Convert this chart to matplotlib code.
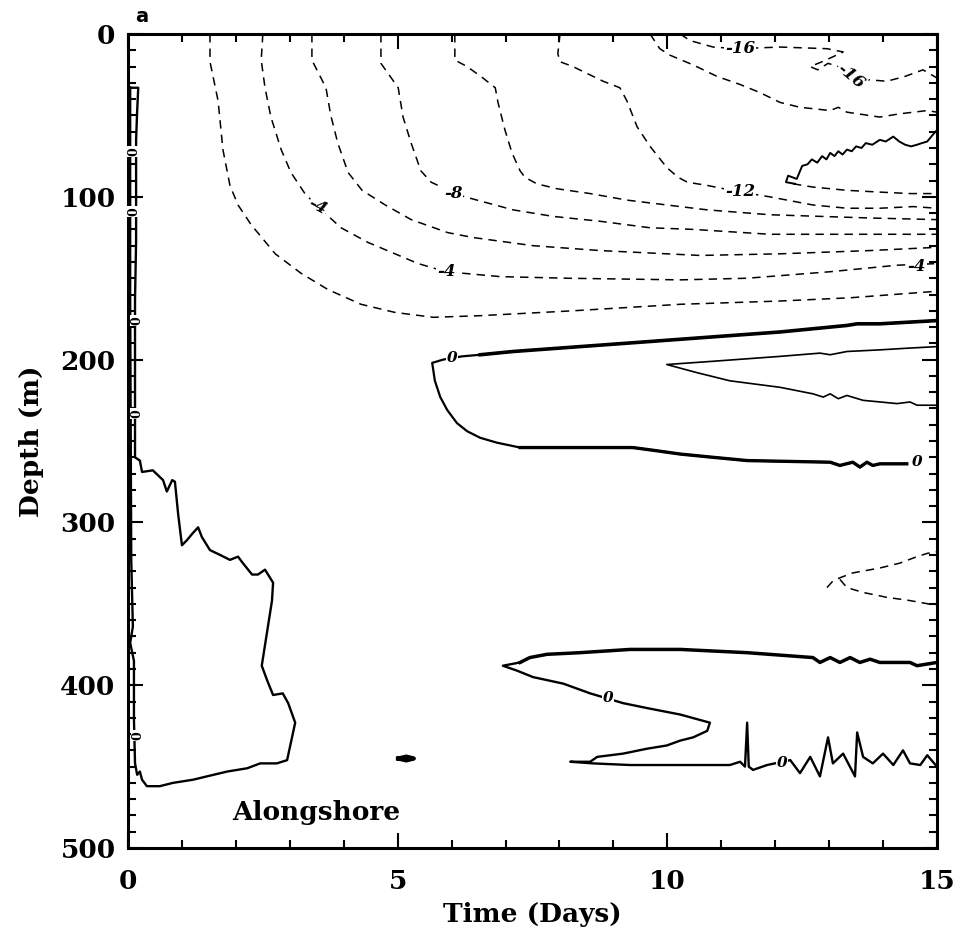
import matplotlib

matplotlib.use("Agg")
import matplotlib.pyplot as plt  # noqa: E402
from matplotlib.ticker import MultipleLocator  # noqa: E402

# traced contours: time (days), depth (m)
# dashed = negative alongshore velocity (interval 2)
A_T = [1.52, 1.52, 1.67, 1.76, 1.89, 2.04, 2.28, 2.73, 3.21, 3.71, 4.32, 4.95, 5.66, 6.53, 8.25, 10.24, 12.09, 13.39, 15.0]
A_D = [0, 17, 41, 71, 93, 105, 117, 135, 147, 157, 166, 171, 174, 173, 170, 166, 164, 162, 158]

B_T = [2.50, 2.47, 2.54, 2.65, 2.84, 3.02, 3.28, 3.52, 3.95, 4.45, 4.95, 5.38, 5.90, 6.90, 8.14, 10.24, 11.48, 13.02, 14.26, 15.0]
B_D = [0, 16, 33, 51, 71, 85, 98, 106, 119, 128, 135, 141, 146, 149, 150, 151, 150, 146, 142, 141]

C_T = [3.41, 3.41, 3.67, 3.76, 3.89, 4.08, 4.34, 4.77, 5.25, 5.93, 6.40, 7.51, 8.75, 10.61, 12.09, 13.76, 15.0]
C_D = [0, 16, 33, 50, 67, 85, 96, 105, 114, 122, 125, 130, 133, 136, 135, 133, 131]

D_T = [4.69, 4.69, 5.01, 5.10, 5.25, 5.43, 5.62, 5.88, 6.03, 6.47, 7.14, 7.88, 8.75, 9.68, 10.48, 11.90, 13.76, 15.0]
D_D = [0, 18, 33, 51, 67, 84, 91, 95, 98, 102, 108, 112, 115, 119, 120, 123, 123, 123]

E_T = [6.06, 6.06, 6.29, 6.58, 6.81, 6.86, 6.99, 7.12, 7.27, 7.36, 7.58, 7.95, 8.57, 9.25, 9.99, 10.74, 11.90, 13.76, 15.0]
E_D = [0, 16, 20, 27, 33, 42, 59, 73, 84, 88, 92, 95, 98, 102, 105, 108, 111, 113, 114]

F_T = [8.01, 7.97, 8.01, 8.25, 8.81, 9.12, 9.25, 9.44, 9.68, 9.99, 10.20, 10.37, 10.74, 11.35, 11.90, 12.22, 12.70, 13.33, 13.94, 14.56, 15.0]
F_D = [0, 12, 17, 20, 29, 33, 41, 57, 69, 82, 88, 91, 93, 97, 100, 102, 105, 107, 107, 106, 107]

N_T = [12.33, 12.70, 13.33, 13.89, 14.50, 15.0]
N_D = [92, 94, 96, 97, 98, 98]

G_T = [9.68, 9.86, 10.05, 10.48, 10.92, 11.35, 11.72, 12.09, 12.46, 13.02, 13.17, 13.33, 13.94, 14.31, 14.82, 15.0]
G_D = [0, 9, 13, 19, 26, 31, 36, 42, 45, 47, 45, 48, 51, 49, 47, 48]

H_T = [10.24, 10.42, 10.85, 11.31, 12.09, 12.96, 13.26, 13.07, 12.87, 12.65, 12.79, 12.98, 13.17, 13.39, 13.70, 14.07, 14.41, 14.74, 15.0]
H_D = [0, 4, 8, 9, 8, 9, 11, 14, 17, 20, 22, 18, 20, 27, 28, 29, 26, 22, 27]

LU_T = [12.96, 13.07, 13.20, 13.44, 13.94, 14.31, 14.63, 14.82, 15.0]
LU_D = [340, 336, 334, 331, 328, 325, 321, 319, 318]
LL_T = [13.20, 13.33, 13.63, 14.07, 14.50, 15.0]
LL_D = [335, 340, 343, 346, 348, 351]

# solid = zero contours
U_T = [12.37, 12.20, 12.24, 12.40, 12.50, 12.60, 12.68, 12.78, 12.87, 12.95, 13.02, 13.10, 13.17, 13.25,
       13.33, 13.42, 13.50, 13.60, 13.68, 13.80, 13.94, 14.05, 14.19, 14.30, 14.41, 14.52, 14.63, 14.72,
       14.82, 14.92, 15.0]
U_D = [92, 91, 87, 89, 81, 80, 77, 79, 75, 77, 73, 75, 72, 74, 71, 72, 69, 70, 67, 68, 65, 66, 63, 66,
       68, 69, 68, 67, 66, 62, 59]

Z1_T = [15.0, 13.94, 13.52, 13.33, 13.02, 12.09, 10.85, 9.62, 8.38, 7.14, 6.53, 6.19, 5.84, 5.64, 5.69,
        5.79, 5.92, 6.10, 6.29, 6.53, 6.84, 7.27, 8.38, 9.36, 9.81, 10.24, 10.85, 11.48, 13.02, 13.20,
        13.44, 13.57, 13.70, 13.81, 13.94, 14.44]
Z1_D = [176, 178, 178, 179, 180, 183, 186, 189, 192, 195, 197, 198, 200, 202, 213, 223, 231, 239, 244,
        248, 251, 254, 254, 254, 256, 258, 260, 262, 263, 265, 263, 266, 263, 265, 264, 264]

Z2_T = [15.0, 14.44, 13.94, 13.33, 13.02, 12.83, 12.09, 10.85, 9.99, 10.55, 11.16, 12.09, 12.70, 12.89,
        13.02, 13.17, 13.33, 13.63, 14.26, 14.50, 14.63, 15.0]
Z2_D = [192, 193, 194, 195, 197, 196, 198, 201, 203, 208, 213, 217, 221, 223, 221, 224, 222, 225, 227,
        226, 228, 228]

Z3_T = [15.0, 14.63, 14.50, 13.94, 13.76, 13.57, 13.39, 13.20, 13.02, 12.83, 12.70, 11.48, 10.24, 9.31,
        8.38, 7.77, 7.45, 7.27, 6.95, 7.21, 7.51, 8.07, 8.57, 9.18, 9.62, 10.24, 10.79, 10.74, 10.48,
        10.24, 9.99, 9.62, 9.18, 8.70, 8.57, 8.20, 8.62, 9.31, 11.16, 11.35, 11.44, 11.48, 11.51, 11.59,
        11.85, 12.28, 12.46, 12.65, 12.83, 12.98, 13.07, 13.26, 13.48, 13.52, 13.63, 13.81, 14.00, 14.19,
        14.37, 14.50, 14.69, 14.82, 15.0]
Z3_D = [386, 388, 386, 386, 384, 386, 383, 386, 383, 386, 383, 380, 378, 378, 380, 381, 383, 386, 388,
        391, 395, 399, 405, 411, 414, 418, 423, 428, 432, 434, 437, 439, 442, 444, 447, 447, 448, 449,
        449, 447, 450, 423, 450, 452, 449, 446, 454, 444, 456, 432, 448, 442, 456, 429, 444, 448, 442,
        449, 440, 448, 449, 443, 450]

LEFT_T = [0.04, 0.19, 0.17, 0.15, 0.15, 0.15, 0.13, 0.13, 0.13, 0.13, 0.22, 0.26, 0.46, 0.65, 0.72, 0.82,
          0.87, 0.93, 1.00, 1.09, 1.19, 1.30, 1.37, 1.52, 1.71, 1.89, 2.04, 2.13, 2.30, 2.41, 2.54, 2.69,
          2.67, 2.48, 2.58, 2.69, 2.87, 2.97, 3.10, 2.95, 2.76, 2.45, 2.21, 1.84, 1.46, 1.21, 0.83, 0.59,
          0.35, 0.26, 0.22, 0.17, 0.13, 0.11, 0.11, 0.04, 0.09, 0.06, 0.04, 0.04]
LEFT_D = [33, 33, 47, 65, 90, 127, 163, 200, 243, 260, 262, 269, 268, 274, 281, 274, 275, 295, 314, 311,
          307, 303, 309, 317, 320, 323, 321, 325, 332, 332, 329, 337, 348, 388, 397, 406, 405, 411, 423,
          446, 448, 448, 451, 453, 456, 458, 460, 462, 462, 458, 453, 455, 448, 421, 385, 374, 364, 323,
          163, 33]

BLOB_T = [5.01, 5.16, 5.30, 5.16, 5.01]
BLOB_D = [445, 443.8, 445, 446.2, 445]

# contour labels: (text, time, depth, rotation)
NEG_LABELS = [("-4", 3.52, 106, -28), ("-4", 5.90, 146, 0), ("-4", 14.63, 143, 0),
              ("-8", 6.03, 98, 0), ("-12", 11.35, 97, 0), ("-16", 11.35, 9, 0),
              ("-16", 13.40, 26, -40)]
ZERO_LABELS = [("0", 6.01, 199, 0), ("0", 14.63, 263, 0), ("0", 8.90, 408, 0), ("0", 12.13, 448, 0)]
LEFT_LABELS = [0.11, 0.11, 0.17, 0.17, 0.19]
LEFT_LABEL_D = [72, 109, 176, 233, 431]

plt.rcParams["font.family"] = "DejaVu Serif"
plt.rcParams["font.weight"] = "bold"
plt.rcParams["axes.labelweight"] = "bold"

fig = plt.figure(figsize=(9.56, 9.35), dpi=100)
ax = fig.add_axes([0.1339, 0.0930, 0.8462, 0.8706])

dash = (0, (5.5, 4.0))
for t, d in [(A_T, A_D), (B_T, B_D), (C_T, C_D), (D_T, D_D), (E_T, E_D), (F_T, F_D),
             (N_T, N_D), (G_T, G_D), (H_T, H_D), (LU_T, LU_D), (LL_T, LL_D)]:
    ax.plot(t, d, color="black", lw=1.1, linestyle=dash)

ax.plot(U_T, U_D, color="black", lw=1.4)
ax.plot(Z1_T, Z1_D, color="black", lw=1.6)
ax.plot(Z1_T[:11], Z1_D[:11], color="black", lw=2.6)
ax.plot(Z1_T[21:], Z1_D[21:], color="black", lw=2.4)
ax.plot(Z2_T, Z2_D, color="black", lw=1.2)
ax.plot(Z3_T[:18], Z3_D[:18], color="black", lw=2.5)
ax.plot(Z3_T[17:], Z3_D[17:], color="black", lw=1.7)
ax.plot(LEFT_T, LEFT_D, color="black", lw=1.7)
ax.plot(BLOB_T, BLOB_D, color="black", lw=3)

box = dict(facecolor="white", edgecolor="none", pad=0.6)
for txt, t, d, rot in NEG_LABELS:
    ax.text(t, d, txt, fontsize=12, style="italic", ha="center", va="center",
            rotation=rot, bbox=box)
for txt, t, d, rot in ZERO_LABELS:
    ax.text(t, d, txt, fontsize=11, style="italic", ha="center", va="center",
            rotation=rot, bbox=box)
for t, d in zip(LEFT_LABELS, LEFT_LABEL_D):
    ax.text(t, d, "0", fontsize=9, ha="center", va="center", rotation=90, bbox=box)

ax.text(3.5, 478, "Alongshore", fontsize=19, ha="center", va="center")

ax.set_xlim(0, 15)
ax.set_ylim(500, 0)
ax.xaxis.set_major_locator(MultipleLocator(5))
ax.xaxis.set_minor_locator(MultipleLocator(1))
ax.yaxis.set_major_locator(MultipleLocator(100))
ax.yaxis.set_minor_locator(MultipleLocator(10))
ax.tick_params(which="both", direction="in", top=True, right=True, width=1.5)
ax.tick_params(which="major", length=11, labelsize=19)
ax.tick_params(which="minor", length=6)
ax.tick_params(axis="x", which="major", pad=15)
ax.tick_params(axis="y", which="major", pad=9)
for side in ax.spines.values():
    side.set_linewidth(2.2)

ax.set_xlabel("Time (Days)", fontsize=19, fontweight="bold")
ax.set_ylabel("Depth (m)", fontsize=19, fontweight="bold")
ax.xaxis.set_label_coords(0.5, -0.066)
ax.yaxis.set_label_coords(-0.104, 0.5)
ax.xaxis.label.set_va("top")

fig.text(142 / 956, 1 - 16 / 935, "a", family="DejaVu Sans", fontsize=14,
         fontweight="bold", ha="center", va="center")

fig.savefig("out.png", dpi=100)
